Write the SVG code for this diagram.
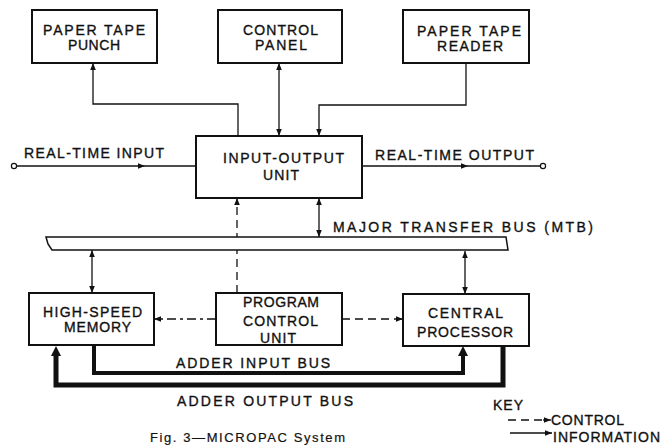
<svg xmlns="http://www.w3.org/2000/svg" width="663" height="446" viewBox="0 0 663 446">
<style>
.box{fill:#fff;stroke:#111;stroke-width:2}
.t{font-family:"Liberation Sans",Arial,sans-serif;font-size:14px;fill:#111;stroke:#111;stroke-width:0.35}
.c{text-anchor:middle}
.ln{fill:none;stroke:#111;stroke-width:1.3}
.dash{fill:none;stroke:#111;stroke-width:1.3;stroke-dasharray:8 5}
.bus{fill:none;stroke:#111;stroke-linejoin:miter}
</style>
<defs>
<marker id="ah" viewBox="0 0 10 10" refX="10" refY="5" markerWidth="7" markerHeight="7" markerUnits="userSpaceOnUse" orient="auto-start-reverse">
<path d="M0,1 L10,5 L0,9 Z" fill="#111"/>
</marker>
</defs>
<rect width="663" height="446" fill="#fff"/>

<g id="connectors">
<path class="ln" d="M238,136 V104 H93 V63" marker-end="url(#ah)"/>
<path class="ln" d="M279,63 V136" marker-start="url(#ah)" marker-end="url(#ah)"/>
<path class="ln" d="M466,63 V105 H319 V136" marker-end="url(#ah)"/>
<circle cx="14" cy="166" r="2.6" fill="#fff" stroke="#111" stroke-width="1.2"/>
<path class="ln" d="M16.6,166 H145" marker-end="url(#ah)"/>
<path class="ln" d="M145,166 H196"/>
<path class="ln" d="M362,166 H468" marker-end="url(#ah)"/>
<path class="ln" d="M468,166 H540.4"/>
<circle cx="543" cy="166" r="2.6" fill="#fff" stroke="#111" stroke-width="1.2"/>
<path class="dash" d="M237,293 V198" marker-end="url(#ah)"/>
<path class="ln" d="M319,198 V237" marker-start="url(#ah)" marker-end="url(#ah)"/>
<path class="ln" d="M92,250 V293" marker-start="url(#ah)" marker-end="url(#ah)"/>
<path class="ln" d="M465,251 V294" marker-start="url(#ah)" marker-end="url(#ah)"/>
<path class="ln" d="M216,319 H154" stroke-dasharray="9 4 3 4" marker-end="url(#ah)"/>
<path class="dash" d="M342,319 H403" marker-end="url(#ah)"/>
<path class="bus" stroke-width="4" d="M94,346 V373 H463 V355"/>
<path d="M458,356 L463,346 L468,356 Z" fill="#111"/>
<path class="bus" stroke-width="5" d="M503,346 V385 H56 V356"/>
<path d="M51,356 L56,346 L61,356 Z" fill="#111"/>
<path class="dash" d="M508,420 H545" stroke-dasharray="5 3"/>
<path class="ln" d="M543,420 H551" marker-end="url(#ah)"/>
<path class="ln" d="M510,433 H552" marker-end="url(#ah)"/>
</g>

<g id="mtb">
<path fill="#fff" stroke="#111" stroke-width="1.5" d="M46,237 H506 L508,250 H52 L48,244 Z"/>
</g>

<g id="punch">
<rect class="box" x="32" y="10" width="125" height="53"/>
<text class="t c" x="94" y="35" textLength="102" lengthAdjust="spacing">PAPER TAPE</text>
<text class="t c" x="94" y="50" textLength="52" lengthAdjust="spacing">PUNCH</text>
</g>
<g id="control-panel">
<rect class="box" x="218" y="10" width="124" height="53"/>
<text class="t c" x="280.5" y="35" textLength="75" lengthAdjust="spacing">CONTROL</text>
<text class="t c" x="281" y="50" textLength="52" lengthAdjust="spacing">PANEL</text>
</g>
<g id="reader">
<rect class="box" x="403" y="10" width="126" height="53"/>
<text class="t c" x="469" y="36" textLength="104" lengthAdjust="spacing">PAPER TAPE</text>
<text class="t c" x="470" y="51" textLength="66" lengthAdjust="spacing">READER</text>
</g>
<g id="io-unit">
<rect class="box" x="196" y="136" width="166" height="62"/>
<text class="t c" x="283.5" y="163" textLength="121" lengthAdjust="spacing">INPUT-OUTPUT</text>
<text class="t c" x="281" y="180" textLength="36" lengthAdjust="spacing">UNIT</text>
</g>
<g id="memory">
<rect class="box" x="29" y="293" width="125" height="52"/>
<text class="t c" x="92.5" y="317" textLength="99" lengthAdjust="spacing">HIGH-SPEED</text>
<text class="t c" x="97.5" y="332" textLength="67" lengthAdjust="spacing">MEMORY</text>
</g>
<g id="pcu">
<rect class="box" x="216" y="293" width="126" height="52"/>
<text class="t c" x="281" y="307" textLength="76" lengthAdjust="spacing">PROGRAM</text>
<text class="t c" x="280.5" y="326" textLength="75" lengthAdjust="spacing">CONTROL</text>
<text class="t c" x="278" y="343" textLength="36" lengthAdjust="spacing">UNIT</text>
</g>
<g id="cpu">
<rect class="box" x="403" y="294" width="126" height="52"/>
<text class="t c" x="465.5" y="318" textLength="75" lengthAdjust="spacing">CENTRAL</text>
<text class="t c" x="465" y="337" textLength="96" lengthAdjust="spacing">PROCESSOR</text>
</g>

<g id="labels">
<text class="t" x="24" y="158" textLength="140" lengthAdjust="spacing">REAL-TIME INPUT</text>
<text class="t" x="375" y="160" textLength="159" lengthAdjust="spacing">REAL-TIME OUTPUT</text>
<text class="t" x="333" y="232" textLength="260" lengthAdjust="spacing">MAJOR TRANSFER BUS (MTB)</text>
<text class="t" x="176" y="368" textLength="154" lengthAdjust="spacing">ADDER INPUT BUS</text>
<text class="t" x="177" y="406" textLength="176" lengthAdjust="spacing">ADDER OUTPUT BUS</text>
<text class="t" x="493" y="410" textLength="30" lengthAdjust="spacing">KEY</text>
<text class="t" x="551" y="425" textLength="73" lengthAdjust="spacing">CONTROL</text>
<text class="t" x="553" y="442" textLength="107" lengthAdjust="spacing">INFORMATION</text>
<text class="t" x="150" y="442" style="font-size:13px;stroke-width:0.2" textLength="195" lengthAdjust="spacing">Fig. 3—MICROPAC System</text>
</g>
</svg>
